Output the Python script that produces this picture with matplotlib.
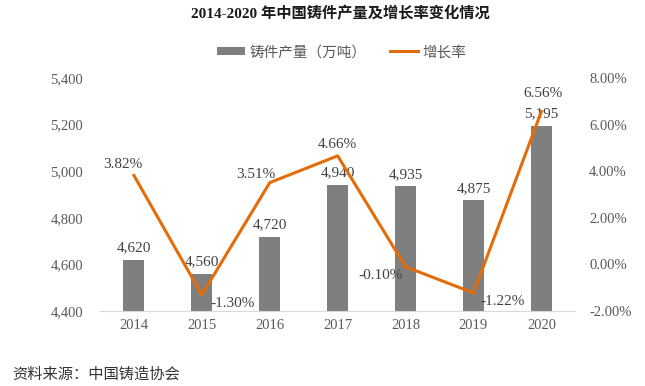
import matplotlib.pyplot as plt
from matplotlib.ticker import FuncFormatter

plt.rcParams['font.family'] = ['Liberation Serif', 'Noto Sans CJK SC']

years = ['2014', '2015', '2016', '2017', '2018', '2019', '2020']
output = [4620, 4560, 4720, 4940, 4935, 4875, 5195]
growth = [3.82, -1.30, 3.51, 4.66, -0.10, -1.22, 6.56]

# label offsets (points) for the growth rate texts
growth_offsets = [(-8, 8), (22, -6), (-10, 6), (0, 8), (-18, -6), (21, -6), (1, 13)]

BAR = '#7f7f7f'
LINE = '#E46C0A'
TXT = '#595959'

fig = plt.figure(figsize=(6.45, 3.86), dpi=100)
ax = fig.add_axes([0.155, 0.194, 0.737, 0.604])
x = range(len(years))

bars = ax.bar(x, output, width=0.31, color=BAR, label='铸件产量（万吨）', zorder=2)
ax.set_ylim(4400, 5400)
ax.set_yticks(range(4400, 5401, 200))
ax.yaxis.set_major_formatter(FuncFormatter(lambda v, p: f'{int(v):,}'))
ax.set_xlim(-0.5, len(years) - 0.5)
ax.set_xticks(list(x))
ax.set_xticklabels(years)
for xi, v in zip(x, output):
    ax.annotate(f'{v:,}', (xi, v), xytext=(0, 4), textcoords='offset points',
                ha='center', va='bottom', fontsize=11, color='#404040')

ax2 = ax.twinx()
ax2.plot(list(x), growth, color=LINE, lw=2.2, label='增长率', zorder=3)
ax2.set_ylim(-2, 8)
ax2.set_yticks(range(-2, 9, 2))
ax2.yaxis.set_major_formatter(FuncFormatter(lambda v, p: f'{v:.2f}%'))
for xi, g, off in zip(x, growth, growth_offsets):
    ax2.annotate(f'{g:.2f}%', (xi, g), xytext=off, textcoords='offset points',
                 ha='center', va='center', fontsize=11, color='#404040')

for a in (ax, ax2):
    for s in a.spines.values():
        s.set_visible(False)
    a.tick_params(length=0, labelsize=10.5, labelcolor=TXT)
ax.spines['bottom'].set_visible(True)
ax.spines['bottom'].set_color('#d9d9d9')
ax.tick_params(axis='y', pad=12)
ax2.tick_params(axis='y', pad=10)
ax.tick_params(axis='x', pad=6)

h1, l1 = ax.get_legend_handles_labels()
h2, l2 = ax2.get_legend_handles_labels()
fig.legend(h1 + h2, l1 + l2, loc='center', bbox_to_anchor=(0.53, 0.865), ncol=2,
           frameon=False, labelcolor=TXT, handlelength=1.9, handletextpad=0.35,
           handleheight=0.5, columnspacing=1.6,
           prop={'family': ['Noto Sans CJK SC'], 'size': 10.5})

fig.text(0.527, 0.964, '2014-2020 年中国铸件产量及增长率变化情况', ha='center', va='center',
         fontsize=11, fontweight='bold', color='#1a1a1a',
         family=['Liberation Serif', 'Noto Sans CJK SC'])
fig.text(0.019, 0.031, '资料来源：中国铸造协会', ha='left', va='center', fontsize=11,
         color='#333333', family=['Noto Sans CJK SC'])

fig.savefig('out.png', dpi=100)
